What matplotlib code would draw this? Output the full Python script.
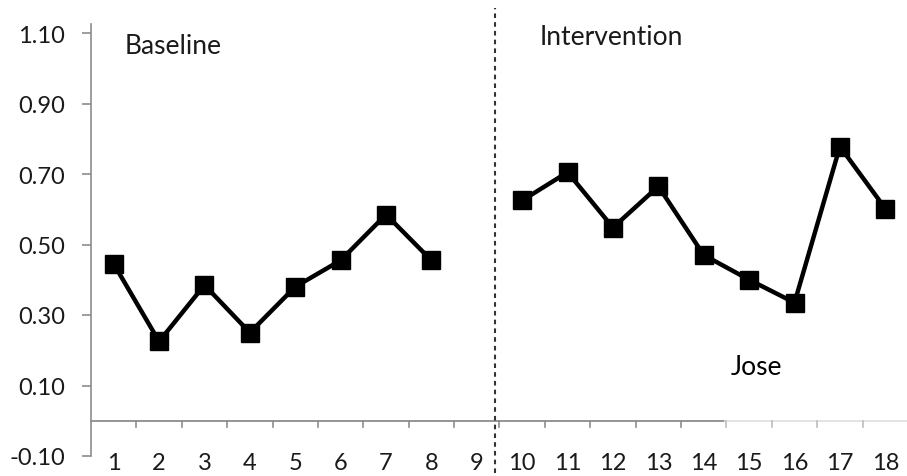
import matplotlib.pyplot as plt
import numpy as np

# Session data
baseline_sessions = [1, 2, 3, 4, 5, 6, 7, 8]
baseline_values = [0.445, 0.225, 0.385, 0.25, 0.38, 0.455, 0.585, 0.455]
intervention_sessions = [10, 11, 12, 13, 14, 15, 16, 17, 18]
intervention_values = [0.625, 0.705, 0.548, 0.665, 0.47, 0.40, 0.335, 0.778, 0.602]
session_labels = [str(i) for i in range(1, 19)]
y_ticks = [-0.10, 0.10, 0.30, 0.50, 0.70, 0.90, 1.10]
phase_change = 9.4

plt.rcParams['font.family'] = ['Lato', 'DejaVu Sans']

fig = plt.figure(figsize=(9.07, 4.77), dpi=100)
ax = fig.add_axes([91 / 907, 1 - 457 / 477, 817 / 907, 423 / 477])

line_kw = dict(color='black', lw=3.2, marker='s', markersize=13, solid_joinstyle='miter')
ax.plot(baseline_sessions, baseline_values, **line_kw)
ax.plot(intervention_sessions, intervention_values, **line_kw)

ax.set_xlim(0.5, 18.5)
ax.set_ylim(-0.10, 1.10)

# phase change line
ax.axvline(phase_change, ymin=-0.04, ymax=1.06, color='#333333', lw=1.5,
           linestyle=(0, (2.2, 2)), clip_on=False)

# axes styling
for s in ['top', 'right', 'bottom']:
    ax.spines[s].set_visible(False)
ax.spines['left'].set_color('#8c8c8c')
ax.spines['left'].set_linewidth(1.2)
ax.spines['left'].set_bounds(-0.10, 1.125)

# x axis at zero, lighter where the label box covers it
ax.plot([0.5, 14.47], [0, 0], color='#8c8c8c', lw=1.3, clip_on=False, zorder=1)
ax.plot([14.47, 18.5], [0, 0], color='#e2e2e2', lw=1.3, clip_on=False, zorder=1)
bounds = np.arange(1.5, 18.5, 1.0)
for b in bounds:
    col = '#8c8c8c' if b < 14.4 else '#bdbdbd'
    ax.plot([b, b], [0, -0.018], color=col, lw=1.2, clip_on=False, zorder=1)

ax.set_xticks(range(1, 19))
ax.set_xticklabels(session_labels)
ax.tick_params(axis='x', length=0, pad=-3, labelsize=17, labelcolor='#1a1a1a')

ax.set_yticks(y_ticks)
ax.set_yticklabels(['%.2f' % v for v in y_ticks])
ax.tick_params(axis='y', length=6.5, width=1.2, color='#8c8c8c', pad=12,
               labelsize=17, labelcolor='#1a1a1a')

ax.text(1.25, 1.065, 'Baseline', fontsize=19, color='#1a1a1a', va='center', ha='left')
ax.text(10.38, 1.09, 'Intervention', fontsize=19, color='#1a1a1a', va='center', ha='left')
ax.text(14.6, 0.155, 'Jose', fontsize=19, color='black', va='center', ha='left')

fig.savefig('out.png', dpi=100)
